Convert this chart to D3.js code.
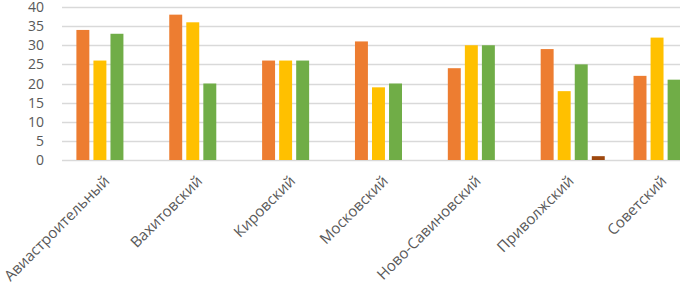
<!DOCTYPE html>
<html>
<head>
<meta charset="utf-8">
<script src="https://cdn.jsdelivr.net/npm/d3@7"></script>
<style>
  html, body { margin: 0; padding: 0; background: #fff; }
  svg { display: block; }
  .tick-label { font-family: "Open Sans", sans-serif; font-size: 14px; fill: #595959; }
  .cat-label { font-family: "Open Sans", sans-serif; font-size: 15px; fill: #595959; }
</style>
</head>
<body>
<div id="chart"></div>
<script>
const districts = ['Авиастроительный', 'Вахитовский', 'Кировский', 'Московский', 'Ново-Савиновский', 'Приволжский', 'Советский'];
const seriesA = [34, 38, 26, 31, 24, 29, 22];
const seriesB = [26, 36, 26, 19, 30, 18, 32];
const seriesC = [33, 20, 26, 20, 30, 25, 21];
const seriesD = [0, 0, 0, 0, 0, 1, 0];
const yTicks = [0, 5, 10, 15, 20, 25, 30, 35, 40];

const colors = ['#ED7D31', '#FFC000', '#70AD47', '#9E480E'];
const series = [seriesA, seriesB, seriesC, seriesD];

const width = 680;
const height = 292;
const plot = { left: 62, right: 712, top: 7, bottom: 160 };

const svg = d3.select('#chart').append('svg')
  .attr('width', width)
  .attr('height', height);

const x = d3.scaleBand().domain(districts).range([plot.left, plot.right]).paddingInner(0.31).paddingOuter(0.155);
const xs = d3.scaleBand().domain(d3.range(series.length)).range([0, x.bandwidth()]).paddingInner(0.24);
const y = d3.scaleLinear().domain([0, 40]).range([plot.bottom, plot.top]);

// gridlines
svg.append('g')
  .selectAll('line')
  .data(yTicks)
  .join('line')
  .attr('x1', plot.left)
  .attr('x2', width)
  .attr('y1', (d) => Math.round(y(d)) + 0.5)
  .attr('y2', (d) => Math.round(y(d)) + 0.5)
  .attr('stroke', '#D9D9D9')
  .attr('stroke-width', 1.3);

// bars
const rows = districts.flatMap((name, i) => series.map((values, s) => ({ name, s, value: values[i] })));
svg.append('g')
  .selectAll('rect')
  .data(rows.filter((d) => d.value > 0))
  .join('rect')
  .attr('x', (d) => x(d.name) + xs(d.s))
  .attr('width', xs.bandwidth())
  .attr('y', (d) => y(d.value))
  .attr('height', (d) => y(0) - y(d.value))
  .attr('fill', (d) => colors[d.s]);

// y labels
svg.append('g')
  .selectAll('text')
  .data(yTicks)
  .join('text')
  .attr('class', 'tick-label')
  .attr('x', 44)
  .attr('y', (d) => y(d))
  .attr('dy', '0.36em')
  .attr('text-anchor', 'end')
  .text((d) => d);

// x labels, rotated
svg.append('g')
  .selectAll('text')
  .data(districts)
  .join('text')
  .attr('class', 'cat-label')
  .attr('text-anchor', 'end')
  .attr('transform', (d) => `translate(${x(d) + x.bandwidth() / 2 + 2},${plot.bottom + 22}) rotate(-45)`)
  .text((d) => d);
</script>
</body>
</html>
